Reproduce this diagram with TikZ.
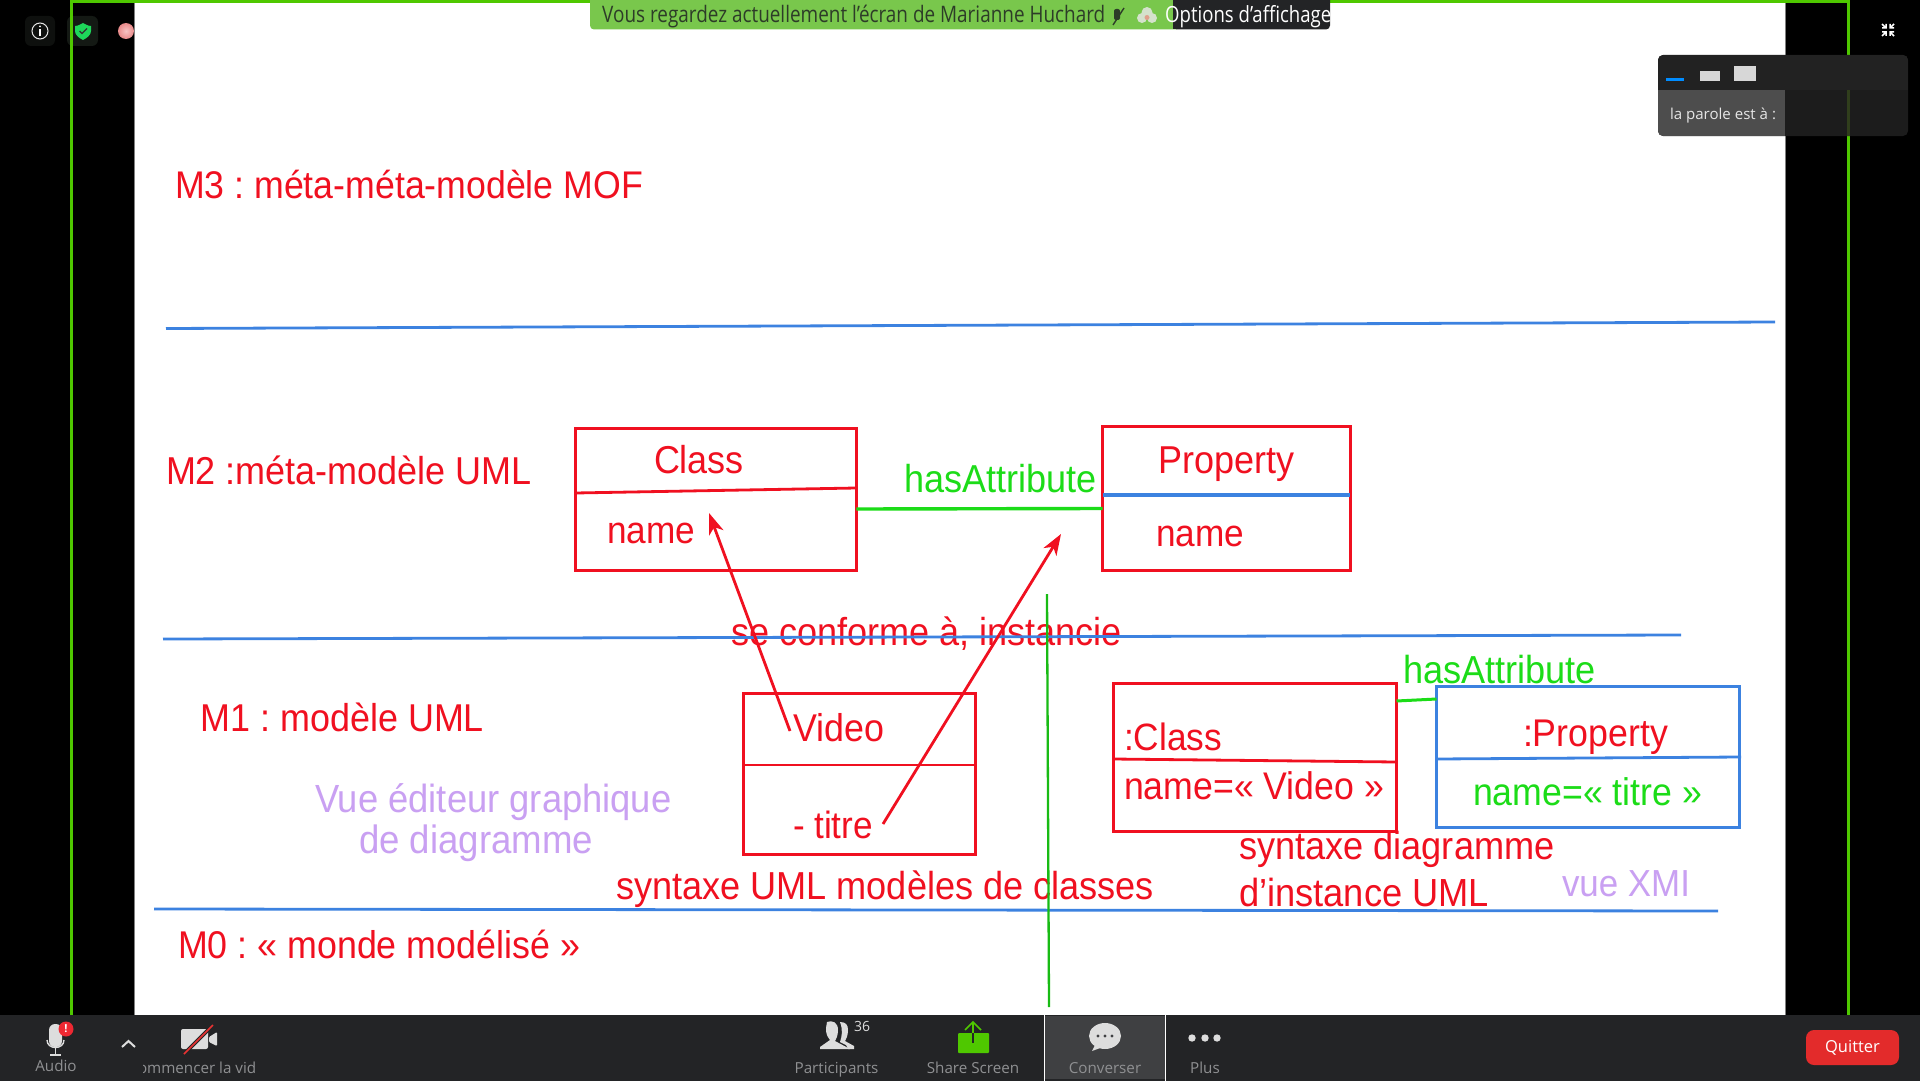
\documentclass[tikz,border=0pt]{standalone}
\usepackage{fontspec}
\setmainfont{Liberation Sans}
\newfontfamily\uifont{Open Sans}
\usetikzlibrary{arrows.meta}
\definecolor{sred}{HTML}{F01020}
\definecolor{sblue}{HTML}{3C82E0}
\definecolor{sgreen}{HTML}{1CDC18}
\definecolor{spurple}{HTML}{C9A0F2}
\definecolor{frameg}{HTML}{4FC800}
\definecolor{barbg}{HTML}{232426}
\definecolor{uigray}{HTML}{8F9092}
\definecolor{uilight}{HTML}{DDDDDD}
\definecolor{banner}{HTML}{79C74C}
\definecolor{bandark}{HTML}{2D3C28}
\definecolor{cloud}{HTML}{D5E2CC}
\definecolor{cloudc}{HTML}{E0A08C}
\definecolor{tilea}{HTML}{0E100E}
\definecolor{tileb}{HTML}{181E18}
\definecolor{shield}{HTML}{1ED75A}
\definecolor{panelb}{HTML}{1C1C1C}
\definecolor{panelt}{HTML}{222222}
\definecolor{panell}{HTML}{4D4D4D}
\definecolor{paneld}{HTML}{303E1C}
\definecolor{barblue}{HTML}{008CFF}
\definecolor{bargray}{HTML}{D7D7D7}
\definecolor{chatbg}{HTML}{3F4042}
\definecolor{badge}{HTML}{EE2832}
\definecolor{slash}{HTML}{E83232}
\definecolor{quitred}{HTML}{E32B2B}
\definecolor{ballin}{HTML}{F7C4C4}
\definecolor{ballout}{HTML}{E98A8A}
\newcommand{\fw}[2]{\resizebox{#1pt}{!}{\scalebox{1}[1.08]{\frenchspacing\fontsize{36}{36}\selectfont #2}}}
\newcommand{\bw}[2]{\resizebox{#1pt}{!}{\scalebox{1}[1.2]{\uifont\fontsize{20}{20}\selectfont #2}}}
\tikzset{
  x=1pt,y=-1pt,
  txt/.style={inner sep=0pt,outer sep=0pt,anchor=base west},
  rtxt/.style={txt,text=sred},
  gtxt/.style={txt,text=sgreen},
  ptxt/.style={txt,text=spurple},
  rbox/.style={draw=sred,line width=3pt,inner sep=0pt,outer sep=0pt,anchor=north west},
  bbox/.style={draw=sblue,line width=3pt,inner sep=0pt,outer sep=0pt,anchor=north west},
  rdiv/.style={draw=sred,line width=2.8pt},
  bline/.style={draw=sblue,line width=2.8pt},
  gline/.style={draw=sgreen,line width=3pt},
  vline/.style={draw=sgreen!85!black,line width=2.3pt},
  rarrow/.style={draw=sred,line width=2.8pt,-{Stealth[length=21pt,width=15pt,inset=6pt]}},
  ui/.style={inner sep=0pt,outer sep=0pt,anchor=base,font=\uifont\fontsize{15.2}{16}\selectfont,text=uigray},
}
\begin{document}
\begin{tikzpicture}
\useasboundingbox (0,0) rectangle (1920,1081);
% screen
\fill[black] (0,0) rectangle (1920,1081);
\fill[white] (134.5,0) rectangle (1785,1016);
\fill[frameg] (70,0) rectangle (73,1016);
\fill[frameg] (1847,0) rectangle (1850,1016);
\fill[frameg] (70,0) rectangle (1850,3);
\draw[gray,line width=.8pt] (134.5,3) -- (134.5,1016) (1785.5,3) -- (1785.5,1016);

% slide labels
\node[rtxt] (m3) at (175,198) {\fw{468}{M3 : méta-méta-modèle MOF}};
\node[rtxt] (m2) at (166,484) {\fw{366}{M2 :méta-modèle UML}};
\node[rtxt] (m1) at (200.5,731) {\fw{283.5}{M1 : modèle UML}};
\node[rtxt] (m0) at (178,958) {\fw{402}{M0 : « monde modélisé »}};

% level separators
\coordinate (a1) at (166,328.5); \coordinate (a2) at (1775,322);
\coordinate (b1) at (163,639); \coordinate (b2) at (1681,635);
\coordinate (c1) at (154,909); \coordinate (c2) at (1718,911);
\draw[bline] (a1) -- (a2);
\node[rtxt] (conf) at (731,645) {\fw{391}{se conforme à, instancie}};
\draw[bline] (b1) -- (b2);
\draw[bline] (c1) -- (c2);

% M2 boxes
\node[rbox,minimum width=281pt,minimum height=142.5pt] (class) at (575.3,428) {};
\coordinate (classdl) at (575.3,493); \coordinate (classdr) at (856.3,488);
\draw[rdiv] (classdl) -- (classdr);
\node[rbox,minimum width=247.5pt,minimum height=144.5pt] (prop) at (1102.5,426) {};
\coordinate (propdl) at (1102.5,495); \coordinate (propdr) at (1350,495);
\draw[bline,line width=3.2pt] (propdl) -- (propdr);
\node[rtxt] (classT) at (654,473) {\fw{90}{Class}};
\node[rtxt] (classN) at (607,543) {\fw{88}{name}};
\node[rtxt] (propT) at (1158,473) {\fw{136}{Property}};
\node[rtxt] (propN) at (1156,546) {\fw{88}{name}};
\draw[gline,line width=3.4pt] (class.east |- 0,509) -- (prop.west |- 0,508.5);
\node[gtxt] (ha1) at (904,492) {\fw{192.5}{hasAttribute}};

% M1 left
\node[rbox,minimum width=232pt,minimum height=161.5pt] (video) at (743.3,693) {};
\coordinate (vdl) at (743.3,765); \coordinate (vdr) at (975.3,765);
\draw[rdiv] (vdl) -- (vdr);
\node[rtxt] (videoT) at (793,741) {\fw{91}{Video}};
\node[rtxt] (titre) at (793,838) {\fw{80}{- titre}};
\node[ptxt] (vue1) at (315,812) {\fw{356.5}{Vue éditeur graphique}};
\node[ptxt] (vue2) at (359,853) {\fw{234}{de diagramme}};
\node[rtxt] (synt1) at (616,899) {\fw{538}{syntaxe UML modèles de classes}};

% M1 right
\node[rbox,minimum width=283.5pt,minimum height=148pt] (iclass) at (1113,683) {};
\coordinate (idl) at (1113,759); \coordinate (idr) at (1396.5,762);
\draw[rdiv] (idl) -- (idr);
\node[bbox,minimum width=303pt,minimum height=141.5pt] (iprop) at (1436.5,686) {};
\coordinate (ipl) at (1436.5,759); \coordinate (ipr) at (1741,757);
\draw[bline] (ipl) -- (ipr);
\node[rtxt] (iclassT) at (1124,750.5) {\fw{98}{:Class}};
\node[rtxt] (iclassN) at (1124,799) {\fw{260}{name=« Video »}};
\node[rtxt] (ipropT) at (1523,746) {\fw{145}{:Property}};
\node[gtxt] (ipropN) at (1473,805) {\fw{229}{name=« titre »}};
\draw[gline] (iclass.east |- 0,701) -- (iprop.west |- 0,699);
\node[gtxt] (ha2) at (1403,683) {\fw{193}{hasAttribute}};
\node[rtxt] (synt2) at (1239,859) {\fw{315.5}{syntaxe diagramme}};
\node[rtxt] (synt3) at (1239,906) {\fw{250}{d’instance UML}};
\node[ptxt] (xmi) at (1562,896) {\fw{128}{vue XMI}};

% vertical separator
\coordinate (v1) at (1047,594); \coordinate (v2) at (1049,1007);
\draw[vline] (v1) -- (v2);

% conformance arrows
\coordinate (ar1s) at (790,731); \coordinate (ar1e) at (709,513);
\coordinate (ar2s) at (883,824); \coordinate (ar2e) at (1061,534);
\draw[rarrow] (ar1s) -- (ar1e);
\draw[rarrow] (ar2s) -- (ar2e);

% top banner
\fill[banner,rounded corners=4pt] (590,-5) rectangle (1180,29.5);
\fill[barbg,rounded corners=4pt] (1173,-5) rectangle (1330,29.5);
\fill[barbg] (1173,-5) rectangle (1185,29.5);
\node[inner sep=0pt,anchor=base west,text=bandark] (ban) at (602,22.5) {\bw{503}{Vous regardez actuellement l’écran de Marianne Huchard}};
\fill[bandark,rounded corners=2pt] (1114,9) rectangle (1120,20);
\draw[line width=1.4pt,draw=bandark] (1113,25) -- (1124,8);
\fill[cloud] (1147,12.5) circle (5.5pt) (1142,18) circle (5pt) (1152,18) circle (5pt);
\fill[cloudc] (1147,17.5) circle (2.5pt);
\node[inner sep=0pt,anchor=base west,text=white] (opt) at (1165,22.5) {\bw{166}{Options d’affichage}};

% top-left icons
\fill[tilea,rounded corners=6pt] (25,16) rectangle (55,46);
\draw[white!90!black,line width=1pt] (40,31) circle (8pt);
\fill[white] (40,26.5) circle (1pt);
\fill[white] (39.2,29) rectangle (40.8,36);
\fill[tileb,rounded corners=6pt,opacity=.85] (67,16) rectangle (98,46);
\fill[frameg] (70,16) rectangle (73,46);
\fill[shield] (83,23) .. controls (78,26) and (76,26) .. (75,26) -- (75,31) .. controls (75,35) and (79,38) .. (83,40) .. controls (87,38) and (91,35) .. (91,31) -- (91,26) .. controls (90,26) and (88,26) .. (83,23) -- cycle;
\draw[black!80,line width=1.3pt] (79.5,31) -- (82,33.5) -- (87,28.5);
\shade[inner color=ballin,outer color=ballout] (126,31) circle (8pt);

% exit full screen icon
\begin{scope}[white,line width=1.5pt]
\draw (1882,24) -- (1886,28) (1886,24) -- (1886,28) -- (1882,28);
\draw (1894,24) -- (1890,28) (1890,24) -- (1890,28) -- (1894,28);
\draw (1882,36) -- (1886,32) (1886,36) -- (1886,32) -- (1882,32);
\draw (1894,36) -- (1890,32) (1890,36) -- (1890,32) -- (1894,32);
\end{scope}

% speaker panel
\fill[panelb,rounded corners=5pt] (1658,55) rectangle (1908,136);
\begin{scope}
\clip[rounded corners=5pt] (1658,55) rectangle (1908,136);
\fill[panelt] (1658,55) rectangle (1908,90);
\fill[panell] (1658,90) rectangle (1785,136);
\fill[paneld] (1847,90) rectangle (1850,136);
\end{scope}
\fill[barblue] (1666,78) rectangle (1684,81);
\fill[bargray] (1700,71) rectangle (1720,81);
\fill[bargray] (1734,66) rectangle (1756,81);
\node[ui,anchor=base west,text=white!90!black] (parole) at (1670,119) {\resizebox{106pt}{!}{\uifont\fontsize{15}{15}\selectfont la parole est à :}};

% toolbar
\fill[barbg] (0,1015) rectangle (1920,1081);
\fill[chatbg] (1045,1016) rectangle (1165,1079);
\draw[white,line width=1pt] (1044.5,1015) -- (1044.5,1081) (1165.5,1015) -- (1165.5,1081);

% audio
\fill[uilight,rounded corners=6pt] (49,1024) rectangle (62,1047);
\draw[uilight,line width=1.4pt] (47,1040) .. controls (47,1050) and (64,1050) .. (64,1040);
\fill[uilight] (54.8,1048) rectangle (56.2,1055);
\fill[uilight] (50,1054) rectangle (61,1056);
\fill[badge] (66,1029) circle (7.5pt);
\node[inner sep=0pt,text=white,font=\uifont\bfseries\fontsize{11}{11}\selectfont] (badgetxt) at (66,1029) {!};
\node[ui] (audio) at (56,1071) {Audio};
\draw[uilight,line width=2pt] (122,1047) -- (128.5,1041) -- (135,1047);

% camera
\fill[uilight,rounded corners=2pt] (181,1029) rectangle (208,1049);
\fill[uilight,rounded corners=1pt] (209,1037) -- (217,1032) -- (217,1046) -- (209,1042) -- cycle;
\draw[barbg,line width=3.8pt] (184,1054) -- (213,1025);
\draw[slash,line width=1.7pt] (184,1054) -- (213,1025);
\begin{scope}
\clip (143,1055) rectangle (255,1078);
\node[ui,anchor=base west] (video2) at (138,1073) {ommencer la vid};
\end{scope}

% participants
\fill[uilight] (827,1022) .. controls (832,1020) and (838,1022) .. (838,1030) .. controls (838,1036) and (836,1039) .. (835,1041) -- (850,1049) -- (820,1049) -- (820,1047) -- (830,1040) .. controls (827,1036) and (826,1034) .. (826,1028) -- cycle;
\fill[uilight] (840,1022) .. controls (846,1022) and (848,1025) .. (848,1030) .. controls (848,1036) and (846,1039) .. (845,1041) -- (854,1046) -- (854,1049) -- (848,1049) -- (846,1045) -- (840,1042) .. controls (842,1036) and (843,1030) .. (840,1022) -- cycle;
\node[inner sep=0pt,text=uilight,font=\uifont\fontsize{14}{14}\selectfont] (npart) at (862,1026) {36};
\node[ui] (part) at (836.5,1073) {Participants};

% share
\fill[frameg,rounded corners=1pt] (958,1033) rectangle (989,1053);
\draw[frameg,line width=1.6pt] (965,1030) -- (973,1022) -- (981,1030) (973,1023) -- (973,1033);
\draw[barbg,line width=1.8pt] (973,1033) -- (973,1043);
\node[ui] (share) at (973,1073) {Share Screen};

% chat
\fill[uilight] (1105,1036) ellipse (16pt and 13pt);
\fill[uilight] (1095,1045) -- (1092,1051) -- (1103,1047) -- cycle;
\fill[chatbg] (1098,1036) circle (1.6pt) (1105,1036) circle (1.6pt) (1112,1036) circle (1.6pt);
\node[ui] (chat) at (1105,1073) {Converser};

% more
\fill[uilight] (1192,1038) circle (3.7pt) (1205,1038) circle (3.7pt) (1217,1038) circle (3.7pt);
\node[ui] (plus) at (1205,1073) {Plus};

% quit
\node[fill=quitred,rounded corners=8pt,minimum width=93pt,minimum height=35pt,inner sep=0pt,text=white,font=\uifont\fontsize{16.5}{17}\selectfont] (quit) at (1852.5,1047.5) {Quitter};
\end{tikzpicture}
\end{document}
